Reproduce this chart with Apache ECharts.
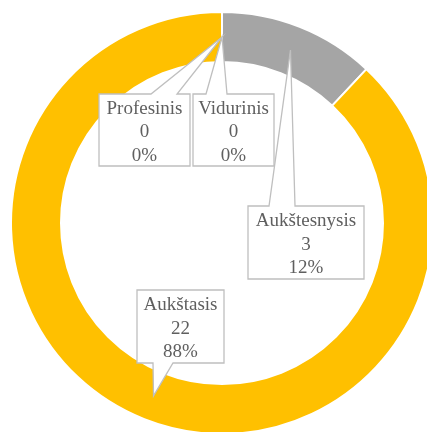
<!DOCTYPE html>
<html>
<head>
<meta charset="utf-8">
<script src="https://cdn.jsdelivr.net/npm/echarts@6/dist/echarts.min.js"></script>
<style>
html,body{margin:0;padding:0;background:#fff;}
#chart{width:427px;height:432px;}
</style>
</head>
<body>
<div id="chart"></div>
<script>
// ---- data ----
const categories = ['Aukštesnysis', 'Aukštasis', 'Profesinis', 'Vidurinis'];
const values = [3, 22, 0, 0];
const colors = ['#A5A5A5', '#FFC000', '#FFC000', '#A5A5A5'];

// ---- layout ----
const CX = 222, CY = 223, R_IN = 161, R_OUT = 211;
const R_TIP = (R_IN + R_OUT) / 2;
// callout boxes: [x0, y0, x1, y1], pointer side, pointer base x range
const boxes = {
  'Aukštesnysis': { b: [248, 206, 364, 279], side: 'top', base: [269, 295] },
  'Aukštasis':    { b: [137, 290, 224, 363], side: 'bottom', base: [153, 173] },
  'Profesinis':   { b: [99, 94, 190, 166], side: 'top', base: [151, 177] },
  'Vidurinis':    { b: [193, 94, 274, 166], side: 'top', base: [206, 227] }
};

const chart = echarts.init(document.getElementById('chart'), null, { renderer: 'canvas' });
const total = values.reduce((a, b) => a + b, 0);

const elements = [];
let cum = 0;
const drawOrder = [];
categories.forEach((name, i) => {
  const v = values[i];
  const theta = (cum + v / 2) / total * Math.PI * 2;
  cum += v;
  const tip = [CX + R_TIP * Math.sin(theta), CY - R_TIP * Math.cos(theta)];
  drawOrder.push({ name, v, tip });
});
['Profesinis', 'Vidurinis', 'Aukštesnysis', 'Aukštasis'].forEach((nm) => {
  const d = drawOrder.find(o => o.name === nm);
  const bx = boxes[nm];
  const [x0, y0, x1, y1] = bx.b;
  const [b0, b1] = bx.base;
  let pts;
  if (bx.side === 'top') {
    pts = [[x0, y0], [b0, y0], d.tip, [b1, y0], [x1, y0], [x1, y1], [x0, y1]];
  } else {
    pts = [[x0, y0], [x1, y0], [x1, y1], [b1, y1], d.tip, [b0, y1], [x0, y1]];
  }
  const pct = Math.round(d.v / total * 100) + '%';
  elements.push({
    type: 'polygon', z: 100,
    shape: { points: pts },
    style: { fill: '#ffffff', stroke: '#BFBFBF', lineWidth: 1.3 }
  });
  elements.push({
    type: 'text', z: 101,
    x: (x0 + x1) / 2, y: (y0 + y1) / 2 + 2.5,
    style: {
      text: d.name + '\n' + d.v + '\n' + pct,
      fill: '#5f5f5f',
      fontFamily: '"Liberation Serif", "Times New Roman", serif',
      fontSize: 19,
      lineHeight: 23.5,
      align: 'center',
      verticalAlign: 'middle'
    }
  });
});

chart.setOption({
  animation: false,
  backgroundColor: '#ffffff',
  series: [{
    type: 'pie',
    center: [CX, CY],
    radius: [R_IN, R_OUT],
    startAngle: 90,
    clockwise: true,
    avoidLabelOverlap: false,
    label: { show: false },
    labelLine: { show: false },
    itemStyle: { borderColor: '#ffffff', borderWidth: 2 },
    emphasis: { disabled: true },
    data: categories.map((n, i) => ({ name: n, value: values[i], itemStyle: { color: colors[i] } }))
  }],
  graphic: { elements: elements }
});
</script>
</body>
</html>
